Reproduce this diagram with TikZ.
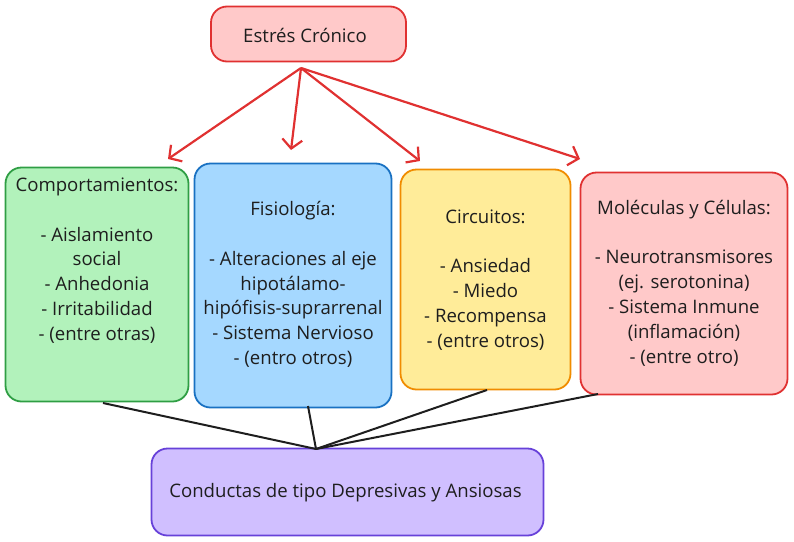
\documentclass[tikz,border=0pt]{standalone}
\usepackage{fontspec}
\setmainfont{Open Sans}
\usetikzlibrary{calc,positioning,arrows.meta}

\definecolor{ink}{HTML}{1E1E1E}
\definecolor{redline}{HTML}{E03131}
\definecolor{redfill}{HTML}{FFC9C9}
\definecolor{greenline}{HTML}{2F9E44}
\definecolor{greenfill}{HTML}{B2F2BB}
\definecolor{blueline}{HTML}{1971C2}
\definecolor{bluefill}{HTML}{A5D8FF}
\definecolor{orangeline}{HTML}{F08C00}
\definecolor{orangefill}{HTML}{FFEC99}
\definecolor{violetline}{HTML}{6741D9}
\definecolor{violetfill}{HTML}{D0BFFF}

\tikzset{
	card/.style={line width=1.8pt, rounded corners=16pt, inner sep=0pt},
	cardtxt/.style={align=center, text=ink, font=\fontsize{18.6}{24.8}\selectfont},
	redarrow/.style={draw=redline, line width=2.2pt, -{Straight Barb[length=9pt,width=20pt,line width=2.2pt]}},
	link/.style={draw=ink, line width=2pt},
}

\begin{document}
\begin{tikzpicture}[x=1pt,y=-1pt]
			\useasboundingbox (0,0) rectangle (794,541);
			% boxes
			\node[card, draw=redline, fill=redfill, minimum width=195pt, minimum height=55pt] (stress) at (308.5,34) {};
			\node[cardtxt] (stresstxt) at (305,35) {Estrés Crónico};
			\node[card, draw=greenline, fill=greenfill, minimum width=183pt, minimum height=234pt] (comp) at (97,284.5) {};
			\node[cardtxt] (comptxt) at (97,260.5) {Comportamientos:\\[24.8pt] - Aislamiento\\ social\\ - Anhedonia\\ - Irritabilidad\\ - (entre otras)};
			\node[card, draw=blueline, fill=bluefill, minimum width=197pt, minimum height=244pt] (fisio) at (293,285.5) {};
			\node[cardtxt] (fisiotxt) at (293,284.5) {Fisiología:\\[24.8pt] - Alteraciones al eje\\ hipotálamo-\\ hipófisis-suprarrenal\\ - Sistema Nervioso\\ - (entro otros)};
			\node[card, draw=orangeline, fill=orangefill, minimum width=170pt, minimum height=220pt] (circ) at (485.5,279.5) {};
			\node[cardtxt] (circtxt) at (485.5,280) {Circuitos:\\[24.8pt] - Ansiedad\\ - Miedo\\ - Recompensa\\ - (entre otros)};
			\node[card, draw=redline, fill=redfill, minimum width=207pt, minimum height=222pt] (mol) at (684,283.5) {};
			\node[cardtxt] (moltxt) at (684,283) {Moléculas y Células:\\[24.8pt] - Neurotransmisores\\ (ej. serotonina)\\ - Sistema Inmune\\ (inflamación)\\ - (entre otro)};
			\node[card, draw=violetline, fill=violetfill, minimum width=392pt, minimum height=87pt] (cond) at (347.5,492) {};
			\node[cardtxt] (condtxt) at (345.5,492.5) {Conductas de tipo Depresivas y Ansiosas};
			% arrows from the top box
			\coordinate (src) at (301,68);
			\coordinate (tocomp) at (168,159);
			\coordinate (tofisio) at (291,150);
			\coordinate (tocirc) at (420,161);
			\coordinate (tomol) at (580,159);
			\foreach \t in {tocomp,tofisio,tocirc,tomol}
				\draw[redarrow] (src) -- (\t);
			% lines to the bottom box
			\coordinate (join) at (316,449);
			\coordinate (fromcomp) at (103,403);
			\coordinate (fromfisio) at (308,406);
			\coordinate (fromcirc) at (487,390);
			\coordinate (frommol) at (598,394);
			\foreach \f in {fromcomp,fromfisio,fromcirc,frommol}
				\draw[link] (\f) -- (join);
		\end{tikzpicture}
\end{document}
